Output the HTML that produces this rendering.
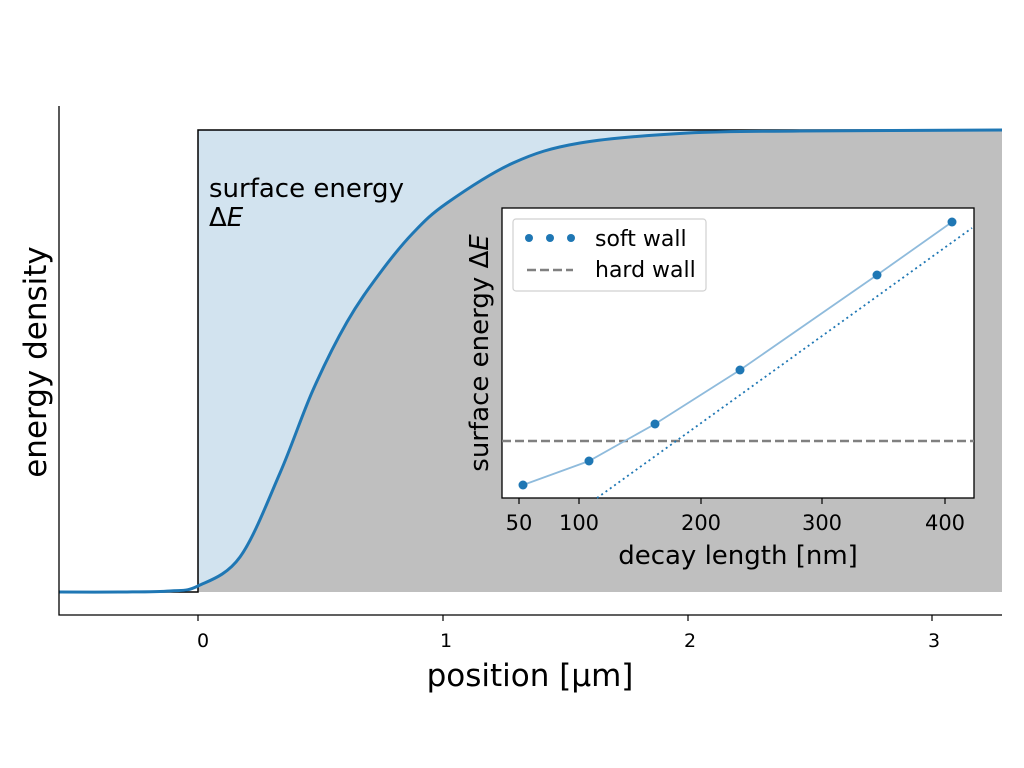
<!DOCTYPE html>
<html><head><meta charset="utf-8"><style>body{margin:0;background:#fff}svg{display:block}text{font-family:"DejaVu Sans","Liberation Sans",sans-serif;fill:#000}</style></head>
<body>
<svg width="1024" height="768" viewBox="0 0 1024 768" xmlns="http://www.w3.org/2000/svg">
<rect x="198" y="130" width="804" height="462" fill="#d2e3ef"/>
<path id="fill" d="" fill="#bfbfbf"/>
<path d="M59,592 L198,592 L198,130 L1002,130" fill="none" stroke="#000" stroke-width="1.5"/>
<path id="curve" d="" fill="none" stroke="#1f77b4" stroke-width="3" stroke-linejoin="round"/>
<text x="209" y="197" font-size="26">surface energy</text>
<text x="209" y="226" font-size="26">Δ<tspan font-style="italic">E</tspan></text>
<path d="M59,106 L59,615 L1002,615" fill="none" stroke="#000" stroke-width="1.3"/>
<g stroke="#000" stroke-width="1.2"><line x1="198" y1="615" x2="198" y2="621"/><line x1="443" y1="615" x2="443" y2="621"/><line x1="688" y1="615" x2="688" y2="621"/><line x1="932" y1="615" x2="932" y2="621"/></g>
<g font-size="19" text-anchor="middle"><text x="203" y="647">0</text><text x="446" y="647">1</text><text x="690" y="647">2</text><text x="934" y="647">3</text></g>
<text x="530" y="686" font-size="31" text-anchor="middle">position [μm]</text>
<text transform="translate(46,362) rotate(-90)" font-size="31" text-anchor="middle">energy density</text>
<rect x="502" y="208" width="472" height="290" fill="#fff" stroke="#000" stroke-width="1.3"/>
<line x1="502" y1="441" x2="974" y2="441" stroke="#808080" stroke-width="2.5" stroke-dasharray="9,4"/>
<line x1="597" y1="498" x2="972" y2="228" stroke="#1f77b4" stroke-width="1.8" stroke-dasharray="2,3.3"/>
<polyline points="523,485 589,461 655,424 740,370 877,275 952,222" fill="none" stroke="#8fbbdc" stroke-width="1.8"/>
<g fill="#1f77b4"><circle cx="523" cy="485" r="4.5"/><circle cx="589" cy="461" r="4.5"/><circle cx="655" cy="424" r="4.5"/><circle cx="740" cy="370" r="4.5"/><circle cx="877" cy="275" r="4.5"/><circle cx="952" cy="222" r="4.5"/></g>
<g stroke="#000" stroke-width="1.2"><line x1="519" y1="498" x2="519" y2="504"/><line x1="579" y1="498" x2="579" y2="504"/><line x1="701" y1="498" x2="701" y2="504"/><line x1="822" y1="498" x2="822" y2="504"/><line x1="945" y1="498" x2="945" y2="504"/></g>
<g font-size="21" text-anchor="middle"><text x="519" y="530">50</text><text x="579" y="530">100</text><text x="701" y="530">200</text><text x="822" y="530">300</text><text x="945" y="530">400</text></g>
<text x="738" y="564" font-size="26" text-anchor="middle">decay length [nm]</text>
<text transform="translate(488,353) rotate(-90)" font-size="26" text-anchor="middle">surface energy Δ<tspan font-style="italic">E</tspan></text>
<rect x="513" y="219" width="193" height="72" rx="3" fill="#fff" stroke="#d0d0d0" stroke-width="1.2"/>
<g fill="#1f77b4"><circle cx="529" cy="238" r="4"/><circle cx="550" cy="238" r="4"/><circle cx="571" cy="238" r="4"/></g>
<line x1="527" y1="270" x2="573" y2="270" stroke="#808080" stroke-width="2.5" stroke-dasharray="9,4"/>
<text x="595" y="246" font-size="22">soft wall</text>
<text x="595" y="277" font-size="22">hard wall</text>
</svg>
<script>
var P=[[59,592],[120,592],[170,591],[198,586],[240,557],[280,473],[313,390],[347,322],[380,273],[413,233],[447,203],[513,163],[580,143],[688,133],[800,131],[1002,130]];
function cr(pts){var d="M"+pts[0][0]+","+pts[0][1];for(var i=0;i<pts.length-1;i++){var p0=pts[i-1]||pts[i],p1=pts[i],p2=pts[i+1],p3=pts[i+2]||p2;var c1=[p1[0]+(p2[0]-p0[0])/6,p1[1]+(p2[1]-p0[1])/6],c2=[p2[0]-(p3[0]-p1[0])/6,p2[1]-(p3[1]-p1[1])/6];d+=" C"+c1[0].toFixed(2)+","+c1[1].toFixed(2)+" "+c2[0].toFixed(2)+","+c2[1].toFixed(2)+" "+p2[0]+","+p2[1];}return d;}
document.getElementById("curve").setAttribute("d",cr(P));
var Q=P.slice(3);document.getElementById("fill").setAttribute("d",cr(Q)+" L1002,592 L198,592 Z");
</script>
</body></html>
